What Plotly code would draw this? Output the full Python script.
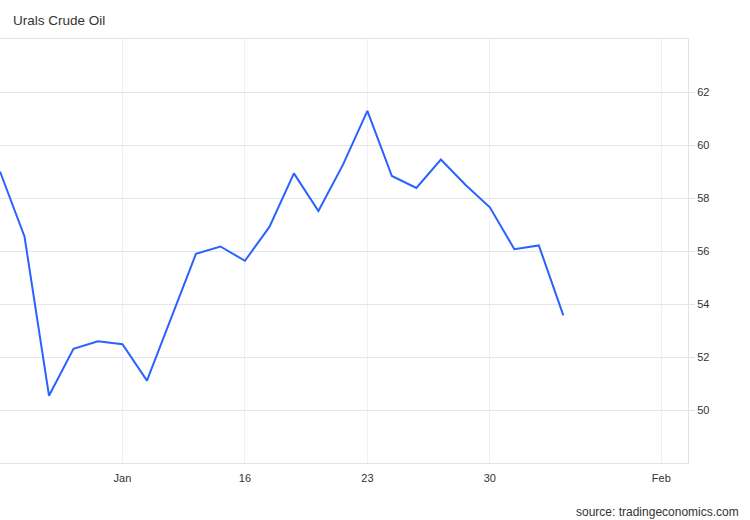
import plotly.graph_objects as go

# Trading-day sequence (Russian market: Dec trading days, then Jan 9 onward)
dates = ["Dec 26", "Dec 27", "Dec 28", "Dec 29", "Dec 30",
         "Jan 9", "Jan 10", "Jan 11", "Jan 12", "Jan 13",
         "Jan 16", "Jan 17", "Jan 18", "Jan 19", "Jan 20",
         "Jan 23", "Jan 24", "Jan 25", "Jan 26", "Jan 27",
         "Jan 30", "Jan 31", "Feb 1", "Feb 2"]
prices = [59.0, 56.55, 50.54, 52.31, 52.59,
          52.48, 51.11, 53.5, 55.89, 56.17,
          55.63, 56.91, 58.93, 57.51, 59.25,
          61.29, 58.83, 58.38, 59.45, 58.5,
          57.65, 56.07, 56.21, 53.57]

x_tick_pos = [5, 10, 15, 20, 27]
x_tick_text = ["Jan", "16", "23", "30", "Feb"]
y_ticks = [50, 52, 54, 56, 58, 60, 62]

xs = list(range(len(prices)))

fig = go.Figure()
fig.add_trace(go.Scatter(
    x=xs, y=prices, mode="lines",
    line=dict(color="#2962ff", width=2),
    text=dates, hovertemplate="%{text}: %{y}<extra></extra>",
    showlegend=False,
))

fig.update_layout(
    width=750, height=520,
    margin=dict(l=0, r=62, t=39, b=57, autoexpand=False),
    paper_bgcolor="white", plot_bgcolor="white",
    font=dict(family="Liberation Sans, Arial, sans-serif", size=11, color="#333333"),
    title=dict(text="Urals Crude Oil", x=13/750, xanchor="left",
               y=1 - 20/520, yanchor="middle",
               font=dict(size=13.5, color="#333333")),
    xaxis=dict(
        range=[0, 28.09], tickvals=x_tick_pos, ticktext=x_tick_text,
        showgrid=True, gridcolor="#edf1f6", gridwidth=1,
        showline=True, linecolor="#e3e3e3", linewidth=1, mirror=True,
        ticks="", zeroline=False, ticklabelstandoff=5,
        tickfont=dict(size=11, color="#333333"),
    ),
    yaxis=dict(
        range=[48, 64], side="right", tickvals=y_ticks,
        showgrid=True, gridcolor="#e6e6e6", gridwidth=1,
        showline=True, linecolor="#e3e3e3", linewidth=1,
        ticks="outside", ticklen=6, tickcolor="#e3e3e3",
        zeroline=False,
        tickfont=dict(size=11, color="#333333"),
    ),
    annotations=[dict(
        text="source: tradingeconomics.com", xref="paper", yref="paper",
        x=741/688, xanchor="right", y=(463-512)/424, yanchor="middle",
        showarrow=False, font=dict(size=12, color="#333333"),
    )],
)

fig.write_html("out.html", config={"displayModeBar": False},
               post_script="document.body.style.margin='0';")
